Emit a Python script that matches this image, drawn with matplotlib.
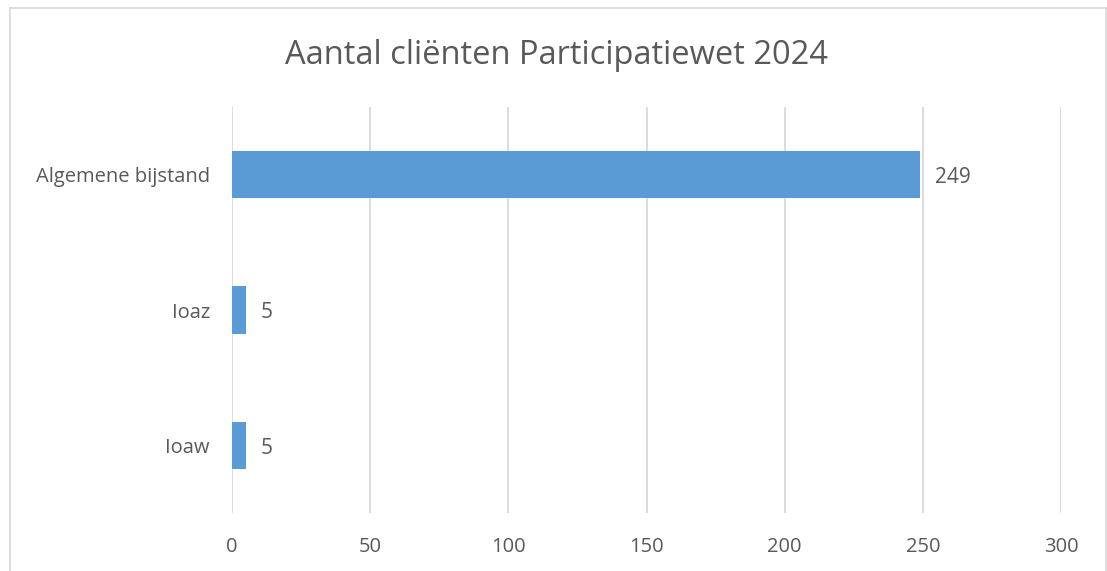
import matplotlib.pyplot as plt
from matplotlib.lines import Line2D

categories = ['Algemene bijstand', 'Ioaz', 'Ioaw']
values = [249, 5, 5]
xticks = [0, 50, 100, 150, 200, 250, 300]

plt.rcParams['font.family'] = ['Open Sans', 'DejaVu Sans']
grey = '#595959'

fig = plt.figure(figsize=(11.07, 5.71), dpi=100)
ax = fig.add_axes([232 / 1107, 1 - 513 / 571, (1061 - 232) / 1107, (513 - 107) / 571])

pos = list(range(len(categories)))[::-1]
bars = ax.barh(pos, values, height=0.35, color='#5B9BD5', zorder=3)
for b, v in zip(bars, values):
    ax.annotate(str(v), (b.get_width(), b.get_y() + b.get_height() / 2),
                xytext=(11, -2), textcoords='offset points', va='center',
                fontsize=15, color=grey)

ax.set_xlim(0, 300)
ax.set_ylim(-0.5, 2.5)
ax.set_xticks(xticks)
ax.set_yticks(pos)
ax.set_yticklabels(categories)
ax.tick_params(length=0, labelsize=14.5, colors=grey)
ax.tick_params(axis='x', pad=17.5)
ax.tick_params(axis='y', pad=16)
ax.grid(axis='x', color='#D9D9D9', linewidth=1.3, zorder=0)
for s in ax.spines.values():
    s.set_visible(False)

fig.text(0.5025, 1 - 55 / 571, 'Aantal cliënten Participatiewet 2024',
         ha='center', va='center', fontsize=23.5, color=grey)

# chart frame
bc = '#D9D9D9'
x0, x1, yt = 9.5 / 1107, 1105.5 / 1107, 1 - 7.5 / 571
fig.add_artist(Line2D([x0, x0], [-0.01, yt], color=bc, lw=1.2))
fig.add_artist(Line2D([x1, x1], [-0.01, yt], color=bc, lw=1.2))
fig.add_artist(Line2D([x0, x1], [yt, yt], color=bc, lw=1.2))

fig.savefig('out.png', dpi=100, facecolor='white')
